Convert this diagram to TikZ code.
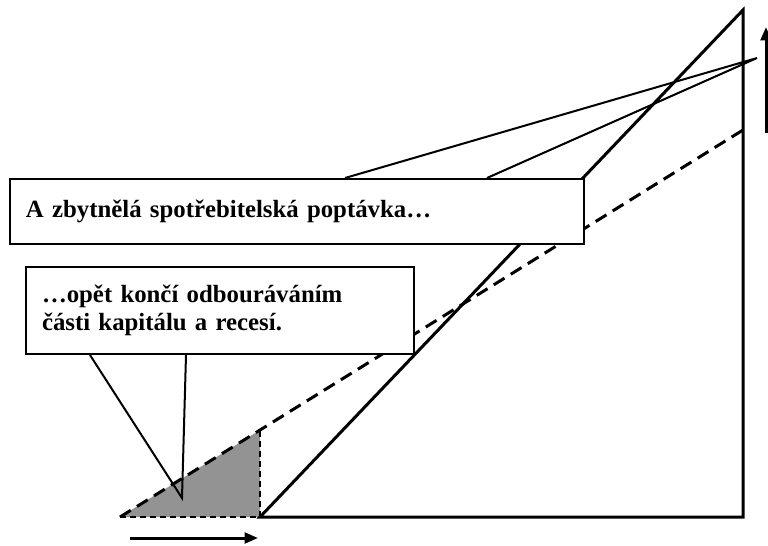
\documentclass[tikz,border=0pt]{standalone}
\usepackage{fontspec}
\setmainfont{Liberation Serif}
\usetikzlibrary{arrows.meta}

\begin{document}
\begin{tikzpicture}[x=0.75pt, y=-0.75pt, thick,
    callout/.style={draw, rectangle, fill=white, line width=1.5pt, anchor=north west, inner xsep=12pt, inner ysep=0pt, align=left, font=\fontsize{18.6}{20.5}\selectfont\bfseries},
    pointer/.style={line width=1.5pt},
    axis/.style={line width=2.25pt},
    move/.style={line width=2.25pt, -{Triangle[length=10pt, width=8pt]}}]
    \useasboundingbox (0,0) rectangle (768,546);

    % Corners of the chart
    \coordinate (o) at (120,517);
    \coordinate (k) at (260,517);
    \coordinate (kt) at (260,430);
    \coordinate (e) at (743,517);
    \coordinate (top) at (743,10);
    \coordinate (dtop) at (743,130);

    % Shaded part and lines
    \fill[gray!85] (o) -- (kt) -- (k) -- cycle;
    \draw[line width=1.5pt, dash pattern=on 4.5pt off 3pt] (o) -- (k) -- (kt);
    \draw[line width=2.25pt, dash pattern=on 9.5pt off 5.5pt] (o) -- (dtop);
    \draw[axis] (k) -- (e) -- (top) -- cycle;

    % Nodes
    \node[callout, text width=406.5pt, minimum height=48.75pt] (box1) at (9,178) {A zbytnělá spotřebitelská poptávka…};
    \node[callout, text width=267pt, minimum height=65.25pt] (box2) at (25,266) {…opět končí odbouráváním\\části kapitálu a recesí.};

    % Pointers
    \coordinate (tip1) at (757,58);
    \coordinate (tip2) at (182,498);
    \draw[pointer] ([xshift=252pt]box1.north west) -- (tip1) -- ([xshift=358.5pt]box1.north west);
    \draw[pointer] ([xshift=48.75pt]box2.south west) -- (tip2) -- ([xshift=120.75pt]box2.south west);

    % Arrows
    \coordinate (up0) at (766,133);
    \coordinate (up1) at (766,27);
    \coordinate (r0) at (130,538);
    \coordinate (r1) at (258,538);
    \draw[move] (up0) -- (up1);
    \draw[move] (r0) -- (r1);
\end{tikzpicture}
\end{document}
